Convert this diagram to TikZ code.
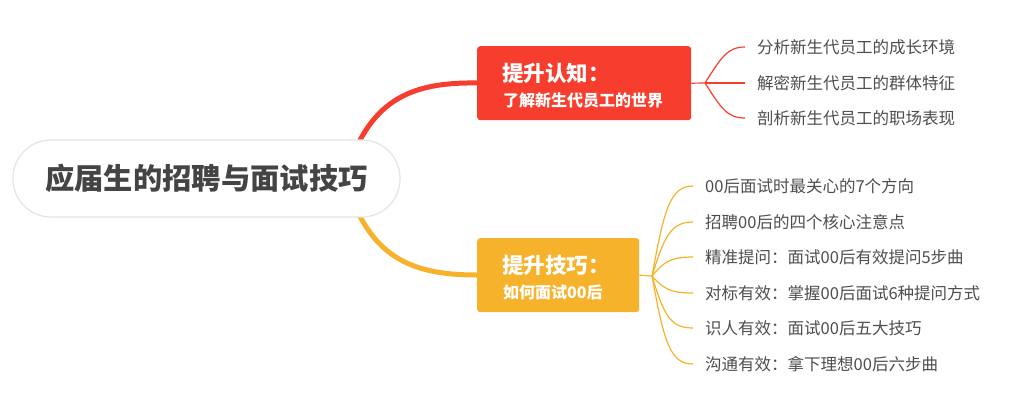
\documentclass[tikz,border=0pt]{standalone}
\usepackage{fontspec}
\setmainfont{Noto Sans CJK SC}
\usetikzlibrary{backgrounds}
\definecolor{redc}{RGB}{247,62,46}
\definecolor{yelc}{RGB}{246,178,42}
\definecolor{leafgray}{RGB}{78,78,78}
\definecolor{rootgray}{RGB}{68,68,68}
\definecolor{borderg}{RGB}{228,228,228}
\begin{document}
\begin{tikzpicture}[x=1pt,y=-1pt,
  leaf/.style={anchor=west,inner xsep=12pt,inner ysep=0pt,font=\fontsize{16.5}{16.5}\selectfont,text=leafgray},
  htitle/.style={anchor=west,inner sep=0pt,font=\bfseries\fontsize{21.5}{21.5}\selectfont,text=white},
  hsub/.style={anchor=west,inner sep=0pt,font=\bfseries\fontsize{16}{16}\selectfont,text=white},
  mainbox/.style={rounded corners=3pt,anchor=north west,inner sep=0pt},
  thick branch/.style={line width=5pt},
  thin branch/.style={line width=1.2pt}]
\useasboundingbox (0,0) rectangle (1023,407);

% root
\node[draw=borderg,fill=white,line width=1.2pt,rounded corners=38pt,minimum width=387pt,minimum height=77pt,inner sep=0pt,
  font=\bfseries\fontsize{29.3}{29.3}\selectfont,text=rootgray] (root) at (206.5,178.5) {应届生的招聘与面试技巧};
\coordinate (rootout) at (345,178);

% red main branch
\node[mainbox,fill=redc,minimum width=214pt,minimum height=74pt] (rbox) at (477,46) {};
\node[htitle] (rt1) at (502,73) {提升认知：};
\node[hsub] (rt2) at (503,100) {了解新生代员工的世界};

% yellow main branch
\node[mainbox,fill=yelc,minimum width=162pt,minimum height=74pt] (ybox) at (477,238) {};
\node[htitle] (yt1) at (502,265) {提升技巧：};
\node[hsub] (yt2) at (503,292) {如何面试00后};

% red leaves
\node[leaf] (r1) at (745,47) {分析新生代员工的成长环境};
\node[leaf] (r2) at (745,83) {解密新生代员工的群体特征};
\node[leaf] (r3) at (745,118) {剖析新生代员工的职场表现};
\coordinate (rs) at (705,83);

% yellow leaves
\node[leaf] (y1) at (693,186) {00后面试时最关心的7个方向};
\node[leaf] (y2) at (693,222) {招聘00后的四个核心注意点};
\node[leaf] (y3) at (693,257) {精准提问：面试00后有效提问5步曲};
\node[leaf] (y4) at (693,293) {对标有效：掌握00后面试6种提问方式};
\node[leaf] (y5) at (693,328) {识人有效：面试00后五大技巧};
\node[leaf] (y6) at (693,364) {沟通有效：拿下理想00后六步曲};
\coordinate (ys) at (652,276);

\begin{scope}[on background layer]
  \draw[redc,thick branch] (rootout) .. controls (368,100) and (410,82) .. ([yshift=-37pt]rbox.north west) -- ([yshift=-37pt,xshift=3pt]rbox.north west);
  \draw[yelc,thick branch] (rootout) .. controls (368,257) and (410,275) .. ([yshift=-37pt]ybox.north west) -- ([yshift=-37pt,xshift=3pt]ybox.north west);
\end{scope}

\draw[redc,thin branch] (rbox.east) -- (rs);
\draw[redc,thin branch] (rs) .. controls (721,58) and (727,47) .. (r1.west);
\draw[redc,thin branch] (rs) -- (r2.west);
\draw[redc,thin branch] (rs) .. controls (721,108) and (727,118) .. (r3.west);

\draw[yelc,thin branch] (ybox.east) -- (ys);
\draw[yelc,thin branch] (ys) .. controls (664,210) and (670,186) .. (y1.west);
\draw[yelc,thin branch] (ys) .. controls (664,238) and (670,222) .. (y2.west);
\draw[yelc,thin branch] (ys) .. controls (664,262) and (670,257) .. (y3.west);
\draw[yelc,thin branch] (ys) .. controls (664,289) and (670,293) .. (y4.west);
\draw[yelc,thin branch] (ys) .. controls (664,315) and (670,328) .. (y5.west);
\draw[yelc,thin branch] (ys) .. controls (664,342) and (670,364) .. (y6.west);
\end{tikzpicture}
\end{document}
